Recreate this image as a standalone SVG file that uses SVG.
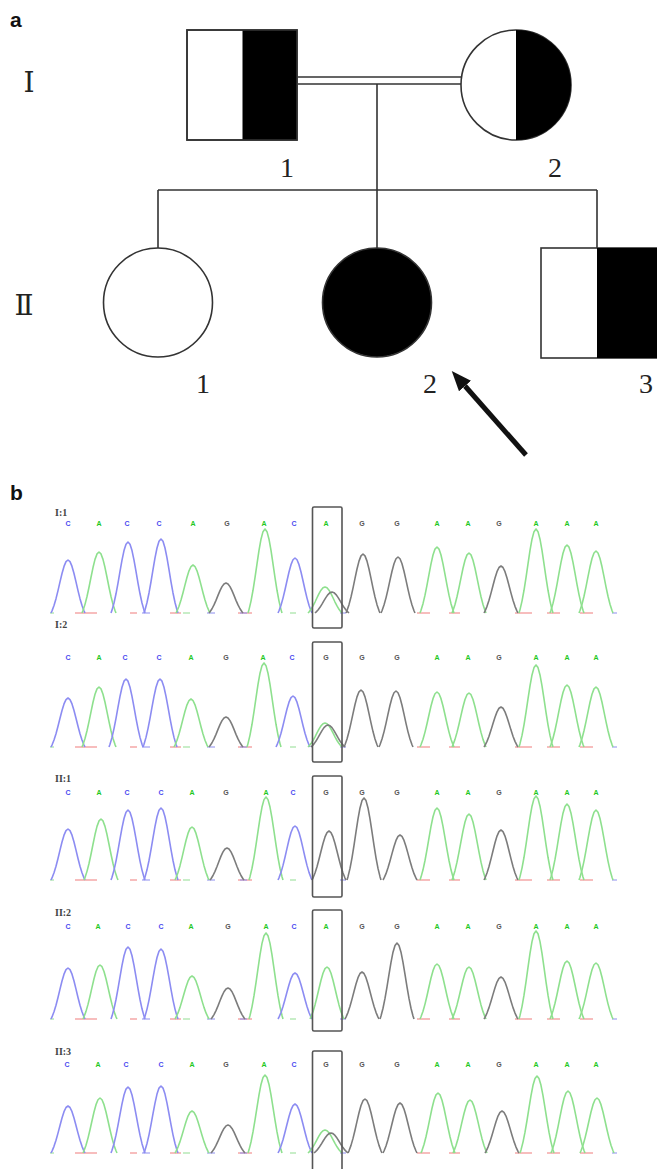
<svg xmlns="http://www.w3.org/2000/svg" xmlns:xlink="http://www.w3.org/1999/xlink" width="657" height="1169" viewBox="0 0 657 1169">
  <style>
    .panel { font-family: "Liberation Sans", Arial, sans-serif; font-weight: bold; font-size: 21px; fill: #111; }
    .gen { font-family: "Liberation Serif", "DejaVu Serif", serif; font-size: 28px; fill: #222; text-anchor: middle; }
    .num { font-family: "Liberation Serif", "DejaVu Serif", serif; font-size: 28px; fill: #222; text-anchor: middle; }
    .sym { stroke: #333; stroke-width: 1.6; }
    .line { stroke: #333; stroke-width: 1.6; fill: none; }
    .lab { font-family: "Liberation Serif", "DejaVu Serif", serif; font-weight: bold; font-size: 10px; fill: #444; }
    .base { font-family: "Liberation Sans", Arial, sans-serif; font-weight: bold; font-size: 7px; text-anchor: middle; }
    .bC { fill: #4a4af0; } .bA { fill: #1ec81e; } .bG { fill: #555; }
    .C { stroke: #8c8cf2; } .A { stroke: #8ee08e; } .G { stroke: #7c7c7c; }
    .pk { fill: none; stroke-width: 1.6; stroke-linejoin: round; }
    .box { fill: none; stroke: #555; stroke-width: 1.6; }
    .noise { fill: none; stroke-width: 1.4; opacity: 0.75; }
  </style>
  <defs>
    <!-- unit peak: gaussian profile, half-width 17, height 1; scaled vertically per call -->
    <path id="hump" vector-effect="non-scaling-stroke" d="M-17,0 L-16,-0.0404 L-14,-0.1414 L-12,-0.2707 L-10,-0.4222 L-8,-0.5861 L-6,-0.7453 L-4,-0.8788 L-2,-0.9684 L0,-1 L2,-0.9684 L4,-0.8788 L6,-0.7453 L8,-0.5861 L10,-0.4222 L12,-0.2707 L14,-0.1414 L16,-0.0404 L17,0"/>
    <!-- short background traces lying on the baseline -->
    <g id="noise">
      <path class="noise" stroke="#f08a8a" d="M75,0 H97 M130,0 H137 M170,0 H181 M238,0 H252 M417,0 H430 M449,0 H460 M515,0 H532 M547,0 H560 M580,0 H593"/>
      <path class="noise" stroke="#9a9af0" d="M142,0 H150 M207,0 H215 M240,0 H247 M340,0 H346 M612,0 H617"/>
      <path class="noise" stroke="#9ee09e" d="M290,0 H296 M183,0 H190 M50,0 H54"/>
    </g>
    <marker id="arrowhead" viewBox="0 -8 20 16" markerWidth="20" markerHeight="16" refX="0" refY="0" orient="auto" markerUnits="userSpaceOnUse">
      <path d="M0,-8 L20,0 L0,8 z" fill="#111"/>
    </marker>
  </defs>

  <!-- panel a: pedigree -->
  <text class="panel" x="10" y="27">a</text>
  <text class="gen" x="29" y="92">Ⅰ</text>
  <text class="gen" x="24" y="315">Ⅱ</text>

  <g id="connectors">
    <path class="line" d="M298,77 H462 M298,84 H462"/>
    <path class="line" d="M377,84 V190 M158,190 H597 M158,190 V248 M377,190 V248 M597,190 V248"/>
    <line x1="526" y1="455" x2="465" y2="386" stroke="#111" stroke-width="5" marker-end="url(#arrowhead)"/>
  </g>

  <g id="I-1">
    <rect class="sym" x="187" y="30" width="110" height="110" fill="#fff"/>
    <rect x="242.5" y="30" width="54.5" height="110" fill="#000"/>
    <rect class="sym" x="187" y="30" width="110" height="110" fill="none"/>
    <text class="num" x="287" y="177">1</text>
  </g>
  <g id="I-2">
    <circle class="sym" cx="516" cy="85" r="55" fill="#fff"/>
    <path d="M516,30 A55,55 0 0 1 516,140 z" fill="#000"/>
    <text class="num" x="555" y="177">2</text>
  </g>
  <g id="II-1">
    <circle class="sym" cx="158" cy="302.5" r="54.5" fill="#fff"/>
    <text class="num" x="203" y="393">1</text>
  </g>
  <g id="II-2">
    <circle class="sym" cx="377" cy="302.5" r="54.5" fill="#000"/>
    <text class="num" x="430" y="393">2</text>
  </g>
  <g id="II-3">
    <rect class="sym" x="541" y="248" width="120" height="110" fill="#fff"/>
    <rect x="597" y="248" width="64" height="110" fill="#000"/>
    <text class="num" x="646" y="393">3</text>
  </g>

  <!-- panel b: sequencing traces -->
  <text class="panel" x="10" y="500">b</text>

  <g id="trace-I-1">
    <text class="lab" x="55" y="516">I:1</text>
    <g class="base">
      <text class="bC" x="68" y="526">C</text><text class="bA" x="99" y="526">A</text><text class="bC" x="127" y="526">C</text><text class="bC" x="159" y="526">C</text><text class="bA" x="193" y="526">A</text><text class="bG" x="227" y="526">G</text><text class="bA" x="264" y="526">A</text><text class="bC" x="294" y="526">C</text><text class="bA" x="326" y="526">A</text><text class="bG" x="362" y="526">G</text><text class="bG" x="397" y="526">G</text><text class="bA" x="437" y="526">A</text><text class="bA" x="468" y="526">A</text><text class="bG" x="499" y="526">G</text><text class="bA" x="536" y="526">A</text><text class="bA" x="567" y="526">A</text><text class="bA" x="596" y="526">A</text>
    </g>
    <use href="#noise" transform="translate(0,613)"/>
    <g class="pk">
      <use href="#hump" class="C" transform="translate(68,613) scale(1,53)"/>
      <use href="#hump" class="A" transform="translate(99,613) scale(1,61)"/>
      <use href="#hump" class="C" transform="translate(128,613) scale(1,71)"/>
      <use href="#hump" class="C" transform="translate(161,613) scale(1,74)"/>
      <use href="#hump" class="A" transform="translate(193,613) scale(1,48)"/>
      <use href="#hump" class="G" transform="translate(226,613) scale(1,30)"/>
      <use href="#hump" class="A" transform="translate(265,613) scale(1,84)"/>
      <use href="#hump" class="C" transform="translate(295,613) scale(1,55)"/>
      <use href="#hump" class="A" transform="translate(325,613) scale(1,26)"/>
      <use href="#hump" class="G" transform="translate(332,613) scale(1,21)"/>
      <use href="#hump" class="G" transform="translate(363,613) scale(1,59)"/>
      <use href="#hump" class="G" transform="translate(398,613) scale(1,56)"/>
      <use href="#hump" class="A" transform="translate(437,613) scale(1,66)"/>
      <use href="#hump" class="A" transform="translate(469,613) scale(1,60)"/>
      <use href="#hump" class="G" transform="translate(501,613) scale(1,47)"/>
      <use href="#hump" class="A" transform="translate(536,613) scale(1,84)"/>
      <use href="#hump" class="A" transform="translate(567,613) scale(1,68)"/>
      <use href="#hump" class="A" transform="translate(596,613) scale(1,62)"/>
    </g>
    <rect class="box" x="312.5" y="507" width="29.5" height="121" rx="1.5"/>
  </g>

  <g id="trace-I-2">
    <text class="lab" x="55" y="628">I:2</text>
    <g class="base">
      <text class="bC" x="68" y="660">C</text><text class="bA" x="99" y="660">A</text><text class="bC" x="125" y="660">C</text><text class="bC" x="159" y="660">C</text><text class="bA" x="191" y="660">A</text><text class="bG" x="226" y="660">G</text><text class="bA" x="263" y="660">A</text><text class="bC" x="292" y="660">C</text><text class="bG" x="326" y="660">G</text><text class="bG" x="362" y="660">G</text><text class="bG" x="397" y="660">G</text><text class="bA" x="437" y="660">A</text><text class="bA" x="468" y="660">A</text><text class="bG" x="499" y="660">G</text><text class="bA" x="536" y="660">A</text><text class="bA" x="567" y="660">A</text><text class="bA" x="596" y="660">A</text>
    </g>
    <use href="#noise" transform="translate(0,747)"/>
    <g class="pk">
      <use href="#hump" class="C" transform="translate(68,747) scale(1,49)"/>
      <use href="#hump" class="A" transform="translate(99,747) scale(1,60)"/>
      <use href="#hump" class="C" transform="translate(126,747) scale(1,68)"/>
      <use href="#hump" class="C" transform="translate(160,747) scale(1,68)"/>
      <use href="#hump" class="A" transform="translate(191,747) scale(1,48)"/>
      <use href="#hump" class="G" transform="translate(226,747) scale(1,30)"/>
      <use href="#hump" class="A" transform="translate(264,747) scale(1,84)"/>
      <use href="#hump" class="C" transform="translate(293,747) scale(1,51)"/>
      <use href="#hump" class="A" transform="translate(325,747) scale(1,24)"/>
      <use href="#hump" class="G" transform="translate(328,747) scale(1,22)"/>
      <use href="#hump" class="G" transform="translate(361,747) scale(1,57)"/>
      <use href="#hump" class="G" transform="translate(396,747) scale(1,56)"/>
      <use href="#hump" class="A" transform="translate(437,747) scale(1,55)"/>
      <use href="#hump" class="A" transform="translate(469,747) scale(1,54)"/>
      <use href="#hump" class="G" transform="translate(501,747) scale(1,40)"/>
      <use href="#hump" class="A" transform="translate(536,747) scale(1,82)"/>
      <use href="#hump" class="A" transform="translate(567,747) scale(1,62)"/>
      <use href="#hump" class="A" transform="translate(596,747) scale(1,60)"/>
    </g>
    <rect class="box" x="312.5" y="642" width="29.5" height="120" rx="1.5"/>
  </g>

  <g id="trace-II-1">
    <text class="lab" x="55" y="782">II:1</text>
    <g class="base">
      <text class="bC" x="68" y="795">C</text><text class="bA" x="99" y="795">A</text><text class="bC" x="127" y="795">C</text><text class="bC" x="161" y="795">C</text><text class="bA" x="192" y="795">A</text><text class="bG" x="226" y="795">G</text><text class="bA" x="266" y="795">A</text><text class="bC" x="293" y="795">C</text><text class="bG" x="326" y="795">G</text><text class="bG" x="362" y="795">G</text><text class="bG" x="397" y="795">G</text><text class="bA" x="437" y="795">A</text><text class="bA" x="468" y="795">A</text><text class="bG" x="499" y="795">G</text><text class="bA" x="536" y="795">A</text><text class="bA" x="567" y="795">A</text><text class="bA" x="596" y="795">A</text>
    </g>
    <use href="#noise" transform="translate(0,880)"/>
    <g class="pk">
      <use href="#hump" class="C" transform="translate(68,880) scale(1,51)"/>
      <use href="#hump" class="A" transform="translate(101,880) scale(1,61)"/>
      <use href="#hump" class="C" transform="translate(128,880) scale(1,70)"/>
      <use href="#hump" class="C" transform="translate(161,880) scale(1,72)"/>
      <use href="#hump" class="A" transform="translate(192,880) scale(1,53)"/>
      <use href="#hump" class="G" transform="translate(227,880) scale(1,32)"/>
      <use href="#hump" class="A" transform="translate(266,880) scale(1,83)"/>
      <use href="#hump" class="C" transform="translate(295,880) scale(1,54)"/>
      <use href="#hump" class="G" transform="translate(329,880) scale(1,49)"/>
      <use href="#hump" class="G" transform="translate(364,880) scale(1,82)"/>
      <use href="#hump" class="G" transform="translate(400,880) scale(1,45)"/>
      <use href="#hump" class="A" transform="translate(437,880) scale(1,72)"/>
      <use href="#hump" class="A" transform="translate(469,880) scale(1,66)"/>
      <use href="#hump" class="G" transform="translate(501,880) scale(1,50)"/>
      <use href="#hump" class="A" transform="translate(536,880) scale(1,84)"/>
      <use href="#hump" class="A" transform="translate(567,880) scale(1,76)"/>
      <use href="#hump" class="A" transform="translate(596,880) scale(1,70)"/>
    </g>
    <rect class="box" x="312.5" y="776" width="29.5" height="121" rx="1.5"/>
  </g>

  <g id="trace-II-2">
    <text class="lab" x="55" y="916">II:2</text>
    <g class="base">
      <text class="bC" x="68" y="929">C</text><text class="bA" x="98" y="929">A</text><text class="bC" x="128" y="929">C</text><text class="bC" x="161" y="929">C</text><text class="bA" x="191" y="929">A</text><text class="bG" x="228" y="929">G</text><text class="bA" x="266" y="929">A</text><text class="bC" x="294" y="929">C</text><text class="bA" x="326" y="929">A</text><text class="bG" x="362" y="929">G</text><text class="bG" x="397" y="929">G</text><text class="bA" x="437" y="929">A</text><text class="bA" x="468" y="929">A</text><text class="bG" x="499" y="929">G</text><text class="bA" x="536" y="929">A</text><text class="bA" x="567" y="929">A</text><text class="bA" x="596" y="929">A</text>
    </g>
    <use href="#noise" transform="translate(0,1019)"/>
    <g class="pk">
      <use href="#hump" class="C" transform="translate(68,1019) scale(1,51)"/>
      <use href="#hump" class="A" transform="translate(100,1019) scale(1,54)"/>
      <use href="#hump" class="C" transform="translate(128,1019) scale(1,72)"/>
      <use href="#hump" class="C" transform="translate(161,1019) scale(1,70)"/>
      <use href="#hump" class="A" transform="translate(192,1019) scale(1,43)"/>
      <use href="#hump" class="G" transform="translate(228,1019) scale(1,31)"/>
      <use href="#hump" class="A" transform="translate(266,1019) scale(1,86)"/>
      <use href="#hump" class="C" transform="translate(295,1019) scale(1,46)"/>
      <use href="#hump" class="A" transform="translate(327,1019) scale(1,52)"/>
      <use href="#hump" class="G" transform="translate(362,1019) scale(1,47)"/>
      <use href="#hump" class="G" transform="translate(397,1019) scale(1,76)"/>
      <use href="#hump" class="A" transform="translate(437,1019) scale(1,55)"/>
      <use href="#hump" class="A" transform="translate(469,1019) scale(1,52)"/>
      <use href="#hump" class="G" transform="translate(501,1019) scale(1,42)"/>
      <use href="#hump" class="A" transform="translate(536,1019) scale(1,88)"/>
      <use href="#hump" class="A" transform="translate(567,1019) scale(1,58)"/>
      <use href="#hump" class="A" transform="translate(596,1019) scale(1,56)"/>
    </g>
    <rect class="box" x="312.5" y="910" width="29.5" height="121" rx="1.5"/>
  </g>

  <g id="trace-II-3">
    <text class="lab" x="55" y="1055">II:3</text>
    <g class="base">
      <text class="bC" x="67" y="1067">C</text><text class="bA" x="98" y="1067">A</text><text class="bC" x="126" y="1067">C</text><text class="bC" x="161" y="1067">C</text><text class="bA" x="192" y="1067">A</text><text class="bG" x="226" y="1067">G</text><text class="bA" x="264" y="1067">A</text><text class="bC" x="294" y="1067">C</text><text class="bG" x="326" y="1067">G</text><text class="bG" x="362" y="1067">G</text><text class="bG" x="397" y="1067">G</text><text class="bA" x="437" y="1067">A</text><text class="bA" x="468" y="1067">A</text><text class="bG" x="499" y="1067">G</text><text class="bA" x="536" y="1067">A</text><text class="bA" x="567" y="1067">A</text><text class="bA" x="596" y="1067">A</text>
    </g>
    <use href="#noise" transform="translate(0,1153)"/>
    <g class="pk">
      <use href="#hump" class="C" transform="translate(68,1153) scale(1,47)"/>
      <use href="#hump" class="A" transform="translate(100,1153) scale(1,55)"/>
      <use href="#hump" class="C" transform="translate(128,1153) scale(1,66)"/>
      <use href="#hump" class="C" transform="translate(161,1153) scale(1,67)"/>
      <use href="#hump" class="A" transform="translate(192,1153) scale(1,42)"/>
      <use href="#hump" class="G" transform="translate(228,1153) scale(1,28)"/>
      <use href="#hump" class="A" transform="translate(265,1153) scale(1,78)"/>
      <use href="#hump" class="C" transform="translate(295,1153) scale(1,49)"/>
      <use href="#hump" class="A" transform="translate(325,1153) scale(1,23)"/>
      <use href="#hump" class="G" transform="translate(331,1153) scale(1,20)"/>
      <use href="#hump" class="G" transform="translate(365,1153) scale(1,54)"/>
      <use href="#hump" class="G" transform="translate(400,1153) scale(1,50)"/>
      <use href="#hump" class="A" transform="translate(438,1153) scale(1,60)"/>
      <use href="#hump" class="A" transform="translate(470,1153) scale(1,53)"/>
      <use href="#hump" class="G" transform="translate(502,1153) scale(1,42)"/>
      <use href="#hump" class="A" transform="translate(537,1153) scale(1,77)"/>
      <use href="#hump" class="A" transform="translate(568,1153) scale(1,62)"/>
      <use href="#hump" class="A" transform="translate(597,1153) scale(1,55)"/>
    </g>
    <rect class="box" x="312.5" y="1051" width="29.5" height="130" rx="1.5"/>
  </g>
</svg>
